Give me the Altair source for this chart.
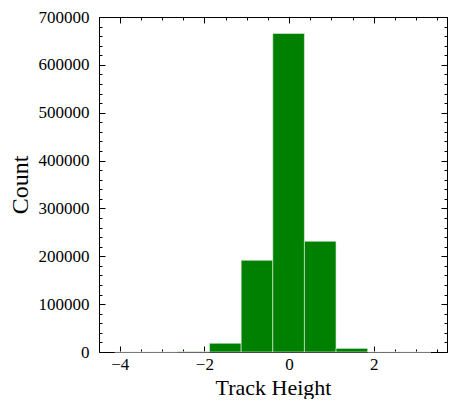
import altair as alt
import pandas as pd

# Histogram bins (Track Height) and counts
bin_edges = [-4.12, -3.373, -2.626, -1.879, -1.132, -0.385, 0.362, 1.109, 1.856, 2.603, 3.35]
counts = [2, 30, 400, 18200, 191600, 665600, 231400, 7500, 200, 5]

x_major = [-4, -2, 0, 2]
x_minor = [-4.0, -3.5, -3.0, -2.5, -2.0, -1.5, -1.0, -0.5, 0.0, 0.5, 1.0, 1.5, 2.0, 2.5, 3.0, 3.5]
y_major = [0, 100000, 200000, 300000, 400000, 500000, 600000, 700000]
y_minor = [i * 20000 for i in range(36)]

X_DOM = [-4.49, 3.73]
Y_DOM = [0, 700000]
FONT = "Liberation Serif"

df = pd.DataFrame({"start": bin_edges[:-1], "end": bin_edges[1:], "count": counts})
base = alt.Chart(df)


def xs(axis):
    return alt.X("start:Q", scale=alt.Scale(domain=X_DOM, nice=False, zero=False), axis=axis)


def ys(axis):
    return alt.Y("count:Q", scale=alt.Scale(domain=Y_DOM, nice=False), axis=axis)


bars = base.mark_rect(color="#008000", stroke="#e8f4e8", strokeWidth=0.6).encode(
    x=xs(alt.Axis(orient="bottom", values=x_major, ticks=False, tickSize=0, domain=False,
                  grid=False, labelFont=FONT, labelFontSize=17, labelPadding=4,
                  labelColor="black", labelFlush=False, title="Track Height",
                  titleFont=FONT, titleFontSize=22, titleFontWeight="normal",
                  titleColor="black", titleBaseline="alphabetic", titleY=42)),
    x2="end:Q",
    y=ys(alt.Axis(orient="left", values=y_major, format="d", ticks=False, tickSize=0,
                  domain=False, grid=False, labelFont=FONT, labelFontSize=17,
                  labelPadding=10, labelColor="black", labelFlush=False, title="Count",
                  titleFont=FONT, titleFontSize=24, titleFontWeight="normal",
                  titleColor="black", titlePadding=6)),
    y2=alt.datum(0),
)


def tick_layer(xorient, yorient, xvals, yvals, size):
    ax = alt.Axis(orient=xorient, values=xvals, tickSize=size, offset=-size, labels=False,
                  domain=False, grid=False, title=None, tickColor="black", tickWidth=1)
    ay = alt.Axis(orient=yorient, values=yvals, tickSize=size, offset=-size, labels=False,
                  domain=False, grid=False, title=None, tickColor="black", tickWidth=1)
    return base.mark_point(opacity=0).encode(x=xs(ax), y=ys(ay))


chart = alt.layer(
    bars,
    tick_layer("bottom", "left", x_major, y_major, 6),
    tick_layer("bottom", "left", x_minor, y_minor, 3),
    tick_layer("top", "right", x_major, y_major, 6),
    tick_layer("top", "right", x_minor, y_minor, 3),
).resolve_scale(x="independent", y="independent").properties(
    width=348,
    height=335,
    autosize=alt.AutoSizeParams(type="none"),
    padding={"left": 91, "top": 9, "right": 1, "bottom": 47},
    background="white",
).configure_view(stroke="black", strokeWidth=1)

chart.save("out.html", embed_options={"renderer": "svg", "actions": False})
